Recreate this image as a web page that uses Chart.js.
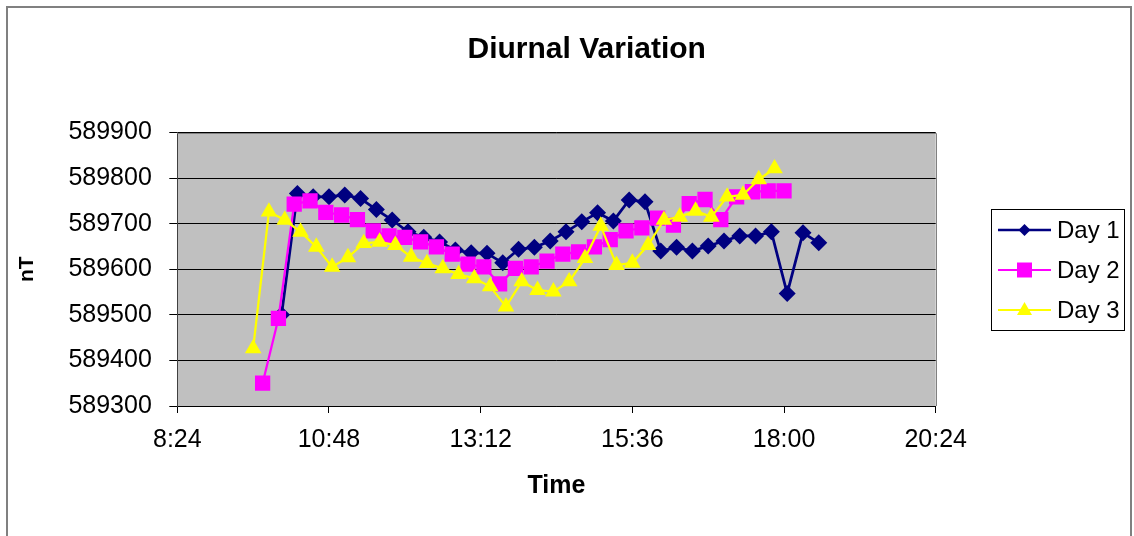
<!DOCTYPE html>
<html>
<head>
<meta charset="utf-8">
<script src="https://cdn.jsdelivr.net/npm/chart.js@4.4.1/dist/chart.umd.min.js"></script>
<style>
  html, body { margin: 0; padding: 0; background: #fff; }
  canvas { display: block; }
</style>
</head>
<body>
<canvas id="diurnal" width="1134" height="536"></canvas>
<script>
// ---- data ----
const seriesNames = ['Day 1', 'Day 2', 'Day 3'];

const day1Times = ['10:03','10:18','10:33','10:48','11:03','11:18','11:33','11:48','12:03','12:18',
  '12:33','12:48','13:03','13:18','13:33','13:48','14:03','14:18','14:33','14:48',
  '15:03','15:18','15:33','15:48','16:03','16:18','16:33','16:48','17:03','17:18',
  '17:33','17:48','18:03','18:18','18:33'];
const day1Values = [589500, 589766, 589759, 589759, 589763, 589755, 589731, 589708, 589682, 589670,
  589660, 589642, 589636, 589635, 589614, 589644, 589648, 589662, 589682, 589704,
  589724, 589706, 589752, 589748, 589640, 589648, 589640, 589651, 589662, 589673,
  589673, 589682, 589547, 589680, 589658];

const day2Times = ['9:45','10:00','10:15','10:30','10:45','11:00','11:15','11:30','11:45','12:00',
  '12:15','12:30','12:45','13:00','13:15','13:30','13:45','14:00','14:15','14:30',
  '14:45','15:00','15:15','15:30','15:45','16:00','16:15','16:30','16:45','17:00',
  '17:15','17:30','17:45','18:00'];
const day2Values = [589350, 589492, 589743, 589750, 589725, 589719, 589709, 589684, 589673, 589670,
  589660, 589649, 589633, 589611, 589605, 589568, 589602, 589605, 589618, 589633,
  589638, 589649, 589665, 589684, 589691, 589712, 589697, 589744, 589753, 589709,
  589759, 589770, 589772, 589772];

const day3Times = ['9:36','9:51','10:06','10:21','10:36','10:51','11:06','11:21','11:36','11:51',
  '12:06','12:21','12:36','12:51','13:06','13:21','13:36','13:51','14:06','14:21',
  '14:36','14:51','15:06','15:21','15:36','15:51','16:06','16:21','16:36','16:51',
  '17:06','17:21','17:36','17:51'];
const day3Values = [589426, 589726, 589708, 589682, 589649, 589605, 589626, 589657, 589660, 589653,
  589627, 589613, 589602, 589589, 589580, 589562, 589518, 589573, 589554, 589551,
  589573, 589624, 589695, 589609, 589614, 589653, 589708, 589715, 589728, 589715,
  589759, 589763, 589797, 589821];

const xTickLabels = ['8:24', '10:48', '13:12', '15:36', '18:00', '20:24'];
const yTickValues = [589300, 589400, 589500, 589600, 589700, 589800, 589900];

// ---- helpers ----
function toMinutes(t) {
  const [h, m] = t.split(':').map(Number);
  return h * 60 + m;
}
function toPoints(times, values) {
  return times.map((t, i) => ({ x: toMinutes(t), y: values[i] }));
}

const FONT = '"Liberation Sans", Arial, sans-serif';
Chart.defaults.font.family = FONT;
Chart.defaults.color = '#000';

const colors = ['#000080', '#ff00ff', '#ffff00'];
const styles = ['rectRot', 'rect', 'triangle'];

// small marker painter for the legend box
function drawMarker(ctx, style, x, y, color) {
  ctx.fillStyle = color;
  ctx.beginPath();
  if (style === 'rectRot') {
    ctx.moveTo(x - 6, y); ctx.lineTo(x, y - 6); ctx.lineTo(x + 6, y); ctx.lineTo(x, y + 6);
  } else if (style === 'rect') {
    ctx.rect(x - 7.5, y - 7.5, 15, 15);
  } else {
    ctx.moveTo(x, y - 8); ctx.lineTo(x + 7.5, y + 5); ctx.lineTo(x - 7.5, y + 5);
  }
  ctx.closePath();
  ctx.fill();
}

const framePlugin = {
  id: 'frame',
  beforeDraw(chart) {
    const { ctx, chartArea: a } = chart;
    ctx.save();
    ctx.fillStyle = '#fff';
    ctx.fillRect(0, 0, chart.width, chart.height);
    ctx.strokeStyle = '#808080';
    ctx.lineWidth = 2;
    ctx.strokeRect(7, 7, 1124, 600);
    ctx.fillStyle = '#c0c0c0';
    ctx.fillRect(a.left, a.top, a.right - a.left, a.bottom - a.top);
    ctx.restore();
  },
  beforeDatasetsDraw(chart) {
    const { ctx, chartArea: a } = chart;
    ctx.save();
    ctx.strokeStyle = '#808080';
    ctx.lineWidth = 1;
    ctx.beginPath();
    ctx.moveTo(a.left, Math.round(a.top) + 0.5);
    ctx.lineTo(Math.round(a.right) + 0.5, Math.round(a.top) + 0.5);
    ctx.lineTo(Math.round(a.right) + 0.5, a.bottom);
    ctx.stroke();
    ctx.restore();
  },
  afterDraw(chart) {
    // Excel-style legend: line with marker, boxed
    const ctx = chart.ctx;
    ctx.save();
    ctx.strokeStyle = '#000';
    ctx.lineWidth = 1;
    ctx.strokeRect(991.5, 209.5, 133, 121);
    ctx.font = '24px ' + FONT;
    ctx.textBaseline = 'middle';
    seriesNames.forEach((name, i) => {
      const y = 230 + i * 40;
      ctx.strokeStyle = colors[i];
      ctx.lineWidth = i === 0 ? 2.5 : 2;
      ctx.beginPath();
      ctx.moveTo(998, y);
      ctx.lineTo(1051, y);
      ctx.stroke();
      drawMarker(ctx, styles[i], 1024.5, y, colors[i]);
      ctx.fillStyle = '#000';
      ctx.fillText(name, 1057, y + 1);
    });
    ctx.restore();
  }
};

const dayData = [
  toPoints(day1Times, day1Values),
  toPoints(day2Times, day2Values),
  toPoints(day3Times, day3Values)
];

new Chart(document.getElementById('diurnal'), {
  type: 'line',
  data: {
    datasets: seriesNames.map((name, i) => ({
      label: name,
      data: dayData[i],
      borderColor: colors[i],
      backgroundColor: colors[i],
      borderWidth: i === 0 ? 2.75 : 2.25,
      pointStyle: styles[i],
      pointRadius: [8.5, 10.8, 9.6][i],
      pointBorderWidth: 0,
      pointBackgroundColor: colors[i],
      tension: 0,
      fill: false,
      yAxisID: 'y',
      order: 3 - i
    }))
  },
  options: {
    responsive: false,
    animation: false,
    events: [],
    layout: { padding: { left: 39.4, right: 0, top: 0, bottom: 0 } },
    scales: {
      x: {
        type: 'linear',
        min: 504,
        max: 1224,
        ticks: {
          stepSize: 144,
          maxRotation: 0,
          autoSkip: false,
          padding: 12,
          font: { size: 25 },
          color: '#000',
          callback: (v, i) => xTickLabels[i]
        },
        grid: { drawOnChartArea: false, drawTicks: true, tickLength: 7, color: '#000' },
        border: { display: true, color: '#000', width: 1 },
        title: {
          display: true,
          text: 'Time',
          font: { size: 25, weight: 'bold' },
          color: '#000',
          padding: { top: 0, bottom: 35 }
        },
        afterFit(s) { s.height = 130; }
      },
      y: {
        type: 'linear',
        position: 'left',
        min: yTickValues[0],
        max: yTickValues[yTickValues.length - 1],
        ticks: {
          stepSize: 100,
          padding: 17.5,
          font: { size: 25 },
          color: '#000',
          callback: v => String(v)
        },
        grid: { color: '#000', lineWidth: 1, tickLength: 8, drawTicks: true },
        border: { display: true, color: '#404040', width: 1 },
        title: {
          display: true,
          text: 'nT',
          font: { size: 21, weight: 'bold' },
          color: '#000',
          padding: { top: -25, bottom: 0 }
        },
        afterFit(s) { s.width = 137.9; }
      },
      pad: {
        type: 'linear',
        position: 'right',
        display: true,
        ticks: { display: false },
        grid: { display: false },
        border: { display: false },
        afterFit(s) { s.width = 198.3; }
      }
    },
    plugins: {
      legend: { display: false },
      tooltip: { enabled: false },
      title: {
        display: true,
        text: 'Diurnal Variation',
        color: '#000',
        font: { size: 30, weight: 'bold' },
        padding: { top: 32, bottom: 64.5 }
      }
    }
  },
  plugins: [framePlugin]
});
</script>
</body>
</html>
